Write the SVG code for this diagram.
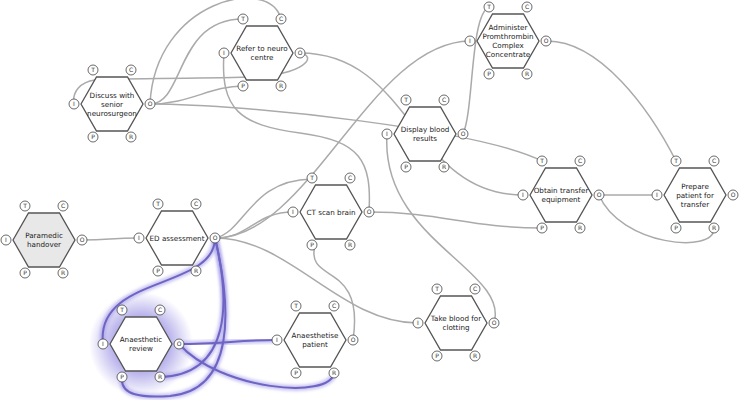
<svg xmlns="http://www.w3.org/2000/svg" width="740" height="400" viewBox="0 0 740 400">
<style>
.hex{fill:#fff;stroke:#555;stroke-width:1.3}
.hex.start{fill:#e8e8e8}
.lbl{font-family:"DejaVu Sans",sans-serif;font-size:7.2px;fill:#222;text-anchor:middle}
.pc{fill:#fff;stroke:#444;stroke-width:0.8}
.pt{font-family:"DejaVu Sans",sans-serif;font-size:6px;fill:#333;text-anchor:middle}
.c{fill:none;stroke:#aaa;stroke-width:1.5}
.hg{fill:none;stroke:#9d94e6;stroke-width:6;stroke-opacity:0.55;filter:url(#blur)}
.hc{fill:none;stroke:#6e64c4;stroke-width:2}
</style>
<defs>
<filter id="blur" x="-20%" y="-20%" width="140%" height="140%"><feGaussianBlur stdDeviation="1.5"/></filter>
<radialGradient id="glow"><stop offset="0.45" stop-color="#8d84e0" stop-opacity="0.75"/><stop offset="1" stop-color="#8d84e0" stop-opacity="0"/></radialGradient>
</defs>
<rect width="740" height="400" fill="#fff"/>
<circle cx="141" cy="344" r="52" fill="url(#glow)"/>
<g id="connectors">
<path class="c" d="M82,240 C110,240 110,238 139,238"/>
<path class="c" d="M215,238 C245,232 250,180 312,179"/>
<path class="c" d="M215,238 C250,238 255,212 293,212"/>
<path class="c" d="M215,238 C310,238 370,42 470,41"/>
<path class="c" d="M215,238 C290,238 340,323 418,323"/>
<path class="c" d="M150,104 C185,104 175,19 243,19"/>
<path class="c" d="M150,104 C155,0 270,-25 281,19"/>
<path class="c" d="M150,104 C190,104 210,86 243,86"/>
<path class="c" d="M300,53 C318,56 305,75 250,77 C180,79 110,78 95,80 C80,82 72,92 74,104"/>
<path class="c" d="M300,53 C412,53 412,195 523,195"/>
<path class="c" d="M224,53 C220,110 240,125 300,133 S372,160 369,212"/>
<path class="c" d="M150,104 C250,104 480,130 542,161"/>
<path class="c" d="M463,134 C474,110 470,15 489,7"/>
<path class="c" d="M546,41 C600,40 650,110 676,161"/>
<path class="c" d="M599,195 L657,195"/>
<path class="c" d="M599,195 C620,245 715,255 714,228"/>
<path class="c" d="M369,212 C440,212 470,228 542,228"/>
<path class="c" d="M494,323 C510,270 380,240 387,134"/>
<path class="c" d="M353,340 C365,260 305,285 315,245"/>
<g id="highlighted">
<path class="hg" d="M215,238 C215,290 95,275 103,344"/>
<path class="hg" d="M215,238 C230,300 232,375 160,377"/>
<path class="hg" d="M215,238 C232,310 235,390 170,396 C140,398 120,395 122,377"/>
<path class="hg" d="M179,344 C220,344 240,340 277,340"/>
<path class="hg" d="M179,344 C220,390 330,400 334,373"/>
<path class="hc" d="M215,238 C215,290 95,275 103,344"/>
<path class="hc" d="M215,238 C230,300 232,375 160,377"/>
<path class="hc" d="M215,238 C232,310 235,390 170,396 C140,398 120,395 122,377"/>
<path class="hc" d="M179,344 C220,344 240,340 277,340"/>
<path class="hc" d="M179,344 C220,390 330,400 334,373"/>
</g>
</g>
<g id="n-paramedic" transform="translate(44,240)">
<polygon class="hex start" points="-31,0 -15.5,-27 15.5,-27 31,0 15.5,27 -15.5,27"/>
<text class="lbl" y="-2">Paramedic</text><text class="lbl" y="7">handover</text>
<circle class="pc" cx="-19" cy="-34" r="5"/><text class="pt" x="-19" y="-32">T</text>
<circle class="pc" cx="19" cy="-34" r="5"/><text class="pt" x="19" y="-32">C</text>
<circle class="pc" cx="-38" cy="0" r="5"/><text class="pt" x="-38" y="2">I</text>
<circle class="pc" cx="38" cy="0" r="5"/><text class="pt" x="38" y="2">O</text>
<circle class="pc" cx="-19" cy="33" r="5"/><text class="pt" x="-19" y="35">P</text>
<circle class="pc" cx="19" cy="33" r="5"/><text class="pt" x="19" y="35">R</text>
</g>
<g id="n-ed" transform="translate(177,238)">
<polygon class="hex" points="-31,0 -15.5,-27 15.5,-27 31,0 15.5,27 -15.5,27"/>
<text class="lbl" y="2.5">ED assessment</text>
<circle class="pc" cx="-19" cy="-34" r="5"/><text class="pt" x="-19" y="-32">T</text>
<circle class="pc" cx="19" cy="-34" r="5"/><text class="pt" x="19" y="-32">C</text>
<circle class="pc" cx="-38" cy="0" r="5"/><text class="pt" x="-38" y="2">I</text>
<circle class="pc" cx="38" cy="0" r="5"/><text class="pt" x="38" y="2">O</text>
<circle class="pc" cx="-19" cy="33" r="5"/><text class="pt" x="-19" y="35">P</text>
<circle class="pc" cx="19" cy="33" r="5"/><text class="pt" x="19" y="35">R</text>
</g>
<g id="n-discuss" transform="translate(112,104)">
<polygon class="hex" points="-31,0 -15.5,-27 15.5,-27 31,0 15.5,27 -15.5,27"/>
<text class="lbl" y="-6.5">Discuss with</text><text class="lbl" y="2.5">senior</text><text class="lbl" y="11.5">neurosurgeon</text>
<circle class="pc" cx="-19" cy="-34" r="5"/><text class="pt" x="-19" y="-32">T</text>
<circle class="pc" cx="19" cy="-34" r="5"/><text class="pt" x="19" y="-32">C</text>
<circle class="pc" cx="-38" cy="0" r="5"/><text class="pt" x="-38" y="2">I</text>
<circle class="pc" cx="38" cy="0" r="5"/><text class="pt" x="38" y="2">O</text>
<circle class="pc" cx="-19" cy="33" r="5"/><text class="pt" x="-19" y="35">P</text>
<circle class="pc" cx="19" cy="33" r="5"/><text class="pt" x="19" y="35">R</text>
</g>
<g id="n-refer" transform="translate(262,53)">
<polygon class="hex" points="-31,0 -15.5,-27 15.5,-27 31,0 15.5,27 -15.5,27"/>
<text class="lbl" y="-2">Refer to neuro</text><text class="lbl" y="7">centre</text>
<circle class="pc" cx="-19" cy="-34" r="5"/><text class="pt" x="-19" y="-32">T</text>
<circle class="pc" cx="19" cy="-34" r="5"/><text class="pt" x="19" y="-32">C</text>
<circle class="pc" cx="-38" cy="0" r="5"/><text class="pt" x="-38" y="2">I</text>
<circle class="pc" cx="38" cy="0" r="5"/><text class="pt" x="38" y="2">O</text>
<circle class="pc" cx="-19" cy="33" r="5"/><text class="pt" x="-19" y="35">P</text>
<circle class="pc" cx="19" cy="33" r="5"/><text class="pt" x="19" y="35">R</text>
</g>
<g id="n-display" transform="translate(425,134)">
<polygon class="hex" points="-31,0 -15.5,-27 15.5,-27 31,0 15.5,27 -15.5,27"/>
<text class="lbl" y="-2">Display blood</text><text class="lbl" y="7">results</text>
<circle class="pc" cx="-19" cy="-34" r="5"/><text class="pt" x="-19" y="-32">T</text>
<circle class="pc" cx="19" cy="-34" r="5"/><text class="pt" x="19" y="-32">C</text>
<circle class="pc" cx="-38" cy="0" r="5"/><text class="pt" x="-38" y="2">I</text>
<circle class="pc" cx="38" cy="0" r="5"/><text class="pt" x="38" y="2">O</text>
<circle class="pc" cx="-19" cy="33" r="5"/><text class="pt" x="-19" y="35">P</text>
<circle class="pc" cx="19" cy="33" r="5"/><text class="pt" x="19" y="35">R</text>
</g>
<g id="n-administer" transform="translate(508,41)">
<polygon class="hex" points="-31,0 -15.5,-27 15.5,-27 31,0 15.5,27 -15.5,27"/>
<text class="lbl" y="-11">Administer</text><text class="lbl" y="-2">Promthrombin</text><text class="lbl" y="7">Complex</text><text class="lbl" y="16">Concentrate</text>
<circle class="pc" cx="-19" cy="-34" r="5"/><text class="pt" x="-19" y="-32">T</text>
<circle class="pc" cx="19" cy="-34" r="5"/><text class="pt" x="19" y="-32">C</text>
<circle class="pc" cx="-38" cy="0" r="5"/><text class="pt" x="-38" y="2">I</text>
<circle class="pc" cx="38" cy="0" r="5"/><text class="pt" x="38" y="2">O</text>
<circle class="pc" cx="-19" cy="33" r="5"/><text class="pt" x="-19" y="35">P</text>
<circle class="pc" cx="19" cy="33" r="5"/><text class="pt" x="19" y="35">R</text>
</g>
<g id="n-obtain" transform="translate(561,195)">
<polygon class="hex" points="-31,0 -15.5,-27 15.5,-27 31,0 15.5,27 -15.5,27"/>
<text class="lbl" y="-2">Obtain transfer</text><text class="lbl" y="7">equipment</text>
<circle class="pc" cx="-19" cy="-34" r="5"/><text class="pt" x="-19" y="-32">T</text>
<circle class="pc" cx="19" cy="-34" r="5"/><text class="pt" x="19" y="-32">C</text>
<circle class="pc" cx="-38" cy="0" r="5"/><text class="pt" x="-38" y="2">I</text>
<circle class="pc" cx="38" cy="0" r="5"/><text class="pt" x="38" y="2">O</text>
<circle class="pc" cx="-19" cy="33" r="5"/><text class="pt" x="-19" y="35">P</text>
<circle class="pc" cx="19" cy="33" r="5"/><text class="pt" x="19" y="35">R</text>
</g>
<g id="n-prepare" transform="translate(695,195)">
<polygon class="hex" points="-31,0 -15.5,-27 15.5,-27 31,0 15.5,27 -15.5,27"/>
<text class="lbl" y="-6.5">Prepare</text><text class="lbl" y="2.5">patient for</text><text class="lbl" y="11.5">transfer</text>
<circle class="pc" cx="-19" cy="-34" r="5"/><text class="pt" x="-19" y="-32">T</text>
<circle class="pc" cx="19" cy="-34" r="5"/><text class="pt" x="19" y="-32">C</text>
<circle class="pc" cx="-38" cy="0" r="5"/><text class="pt" x="-38" y="2">I</text>
<circle class="pc" cx="38" cy="0" r="5"/><text class="pt" x="38" y="2">O</text>
<circle class="pc" cx="-19" cy="33" r="5"/><text class="pt" x="-19" y="35">P</text>
<circle class="pc" cx="19" cy="33" r="5"/><text class="pt" x="19" y="35">R</text>
</g>
<g id="n-ct" transform="translate(331,212)">
<polygon class="hex" points="-31,0 -15.5,-27 15.5,-27 31,0 15.5,27 -15.5,27"/>
<text class="lbl" y="2.5">CT scan brain</text>
<circle class="pc" cx="-19" cy="-34" r="5"/><text class="pt" x="-19" y="-32">T</text>
<circle class="pc" cx="19" cy="-34" r="5"/><text class="pt" x="19" y="-32">C</text>
<circle class="pc" cx="-38" cy="0" r="5"/><text class="pt" x="-38" y="2">I</text>
<circle class="pc" cx="38" cy="0" r="5"/><text class="pt" x="38" y="2">O</text>
<circle class="pc" cx="-19" cy="33" r="5"/><text class="pt" x="-19" y="35">P</text>
<circle class="pc" cx="19" cy="33" r="5"/><text class="pt" x="19" y="35">R</text>
</g>
<g id="n-takeblood" transform="translate(456,323)">
<polygon class="hex" points="-31,0 -15.5,-27 15.5,-27 31,0 15.5,27 -15.5,27"/>
<text class="lbl" y="-2">Take blood for</text><text class="lbl" y="7">clotting</text>
<circle class="pc" cx="-19" cy="-34" r="5"/><text class="pt" x="-19" y="-32">T</text>
<circle class="pc" cx="19" cy="-34" r="5"/><text class="pt" x="19" y="-32">C</text>
<circle class="pc" cx="-38" cy="0" r="5"/><text class="pt" x="-38" y="2">I</text>
<circle class="pc" cx="38" cy="0" r="5"/><text class="pt" x="38" y="2">O</text>
<circle class="pc" cx="-19" cy="33" r="5"/><text class="pt" x="-19" y="35">P</text>
<circle class="pc" cx="19" cy="33" r="5"/><text class="pt" x="19" y="35">R</text>
</g>
<g id="n-anaesthetic" transform="translate(141,344)">
<polygon class="hex" points="-31,0 -15.5,-27 15.5,-27 31,0 15.5,27 -15.5,27"/>
<text class="lbl" y="-2">Anaesthetic</text><text class="lbl" y="7">review</text>
<circle class="pc" cx="-19" cy="-34" r="5"/><text class="pt" x="-19" y="-32">T</text>
<circle class="pc" cx="19" cy="-34" r="5"/><text class="pt" x="19" y="-32">C</text>
<circle class="pc" cx="-38" cy="0" r="5"/><text class="pt" x="-38" y="2">I</text>
<circle class="pc" cx="38" cy="0" r="5"/><text class="pt" x="38" y="2">O</text>
<circle class="pc" cx="-19" cy="33" r="5"/><text class="pt" x="-19" y="35">P</text>
<circle class="pc" cx="19" cy="33" r="5"/><text class="pt" x="19" y="35">R</text>
</g>
<g id="n-anaesthetise" transform="translate(315,340)">
<polygon class="hex" points="-31,0 -15.5,-27 15.5,-27 31,0 15.5,27 -15.5,27"/>
<text class="lbl" y="-2">Anaesthetise</text><text class="lbl" y="7">patient</text>
<circle class="pc" cx="-19" cy="-34" r="5"/><text class="pt" x="-19" y="-32">T</text>
<circle class="pc" cx="19" cy="-34" r="5"/><text class="pt" x="19" y="-32">C</text>
<circle class="pc" cx="-38" cy="0" r="5"/><text class="pt" x="-38" y="2">I</text>
<circle class="pc" cx="38" cy="0" r="5"/><text class="pt" x="38" y="2">O</text>
<circle class="pc" cx="-19" cy="33" r="5"/><text class="pt" x="-19" y="35">P</text>
<circle class="pc" cx="19" cy="33" r="5"/><text class="pt" x="19" y="35">R</text>
</g>
</svg>
